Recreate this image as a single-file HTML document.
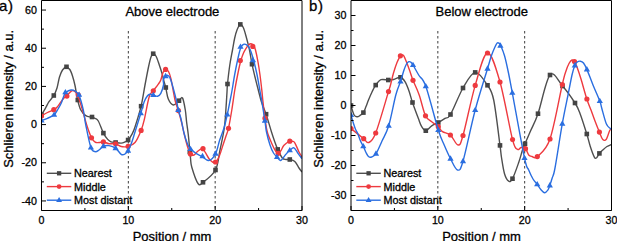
<!DOCTYPE html>
<html><head><meta charset="utf-8"><style>
html,body{margin:0;padding:0;background:#fff;width:617px;height:241px;overflow:hidden}
svg{display:block}
text{font-family:"Liberation Sans",sans-serif;fill:#000;stroke:#000;stroke-width:0.3px}
</style></head><body>
<svg width="617" height="241" viewBox="0 0 617 241">
<defs><clipPath id="ca"><rect x="41.5" y="0.5" width="260.5" height="210"/></clipPath><clipPath id="cb"><rect x="351" y="0.5" width="260.5" height="210"/></clipPath></defs>
<line x1="128.33" y1="31" x2="128.33" y2="210" stroke="#3c3c3c" stroke-width="1" stroke-dasharray="2.5,2.5"/>
<line x1="215.17" y1="31" x2="215.17" y2="210" stroke="#3c3c3c" stroke-width="1" stroke-dasharray="2.5,2.5"/>
<g clip-path="url(#ca)"><path d="M41.50,114.80 C42.15,113.72 44.15,110.48 45.40,108.30 C46.65,106.12 47.60,103.83 49.00,101.70 C50.40,99.57 52.47,97.78 53.80,95.50 C55.13,93.22 56.05,91.08 57.00,88.00 C57.95,84.92 58.58,80.00 59.50,77.00 C60.42,74.00 61.38,71.63 62.50,70.00 C63.62,68.37 64.98,67.28 66.20,67.20 C67.42,67.12 68.75,68.03 69.80,69.50 C70.85,70.97 71.63,73.33 72.50,76.00 C73.37,78.67 74.15,81.53 75.00,85.50 C75.85,89.47 76.63,95.72 77.60,99.80 C78.57,103.88 79.43,107.35 80.80,110.00 C82.17,112.65 84.07,114.50 85.80,115.70 C87.53,116.90 89.67,116.77 91.20,117.20 C92.73,117.63 93.82,117.67 95.00,118.30 C96.18,118.93 96.90,118.53 98.30,121.00 C99.70,123.47 101.83,130.03 103.40,133.10 C104.97,136.17 106.43,137.95 107.70,139.40 C108.97,140.85 109.68,141.28 111.00,141.80 C112.32,142.32 113.90,142.28 115.60,142.50 C117.30,142.72 119.63,143.20 121.20,143.10 C122.77,143.00 123.85,142.42 125.00,141.90 C126.15,141.38 126.95,141.25 128.10,140.00 C129.25,138.75 130.75,136.57 131.90,134.40 C133.05,132.23 133.47,131.70 135.00,127.00 C136.53,122.30 139.43,113.20 141.10,106.20 C142.77,99.20 143.77,91.53 145.00,85.00 C146.23,78.47 147.50,71.67 148.50,67.00 C149.50,62.33 150.20,59.22 151.00,57.00 C151.80,54.78 152.43,53.78 153.30,53.70 C154.17,53.62 155.20,54.62 156.20,56.50 C157.20,58.38 158.30,62.08 159.30,65.00 C160.30,67.92 161.48,71.50 162.20,74.00 C162.92,76.50 163.00,77.70 163.60,80.00 C164.20,82.30 165.02,84.63 165.80,87.80 C166.58,90.97 167.05,96.13 168.30,99.00 C169.55,101.87 171.52,104.72 173.30,105.00 C175.08,105.28 177.47,101.87 179.00,100.70 C180.53,99.53 181.45,96.45 182.50,98.00 C183.55,99.55 184.62,106.00 185.30,110.00 C185.98,114.00 186.12,118.00 186.60,122.00 C187.08,126.00 187.75,130.17 188.20,134.00 C188.65,137.83 188.92,141.00 189.30,145.00 C189.68,149.00 190.08,154.28 190.50,158.00 C190.92,161.72 190.55,163.05 191.80,167.30 C193.05,171.55 196.13,181.00 198.00,183.50 C199.87,186.00 200.08,184.55 203.00,182.30 C205.92,180.05 212.67,175.38 215.50,170.00 C218.33,164.62 218.53,157.00 220.00,150.00 C221.47,143.00 223.30,135.00 224.30,128.00 C225.30,121.00 225.55,114.00 226.00,108.00 C226.45,102.00 226.75,96.00 227.00,92.00 C227.25,88.00 227.03,88.50 227.50,84.00 C227.97,79.50 228.97,70.67 229.80,65.00 C230.63,59.33 231.68,54.50 232.50,50.00 C233.32,45.50 233.95,41.33 234.70,38.00 C235.45,34.67 236.07,32.27 237.00,30.00 C237.93,27.73 239.22,24.73 240.30,24.40 C241.38,24.07 242.47,25.73 243.50,28.00 C244.53,30.27 245.50,34.33 246.50,38.00 C247.50,41.67 248.58,45.63 249.50,50.00 C250.42,54.37 251.08,59.70 252.00,64.20 C252.92,68.70 253.95,72.70 255.00,77.00 C256.05,81.30 257.22,85.83 258.30,90.00 C259.38,94.17 260.20,97.97 261.50,102.00 C262.80,106.03 264.43,109.20 266.10,114.20 C267.77,119.20 270.10,127.53 271.50,132.00 C272.90,136.47 273.47,138.10 274.50,141.00 C275.53,143.90 276.40,146.57 277.70,149.40 C279.00,152.23 280.92,156.32 282.30,158.00 C283.68,159.68 284.75,159.25 286.00,159.50 C287.25,159.75 288.33,159.17 289.80,159.50 C291.27,159.83 293.27,160.08 294.80,161.50 C296.33,162.92 297.80,166.25 299.00,168.00 C300.20,169.75 301.50,171.33 302.00,172.00" fill="none" stroke="#4f4f4f" stroke-width="1.4" stroke-linejoin="round"/><rect x="39.20" y="112.50" width="4.6" height="4.6" fill="#444444"/><rect x="51.50" y="93.20" width="4.6" height="4.6" fill="#444444"/><rect x="64.20" y="64.50" width="4.6" height="4.6" fill="#444444"/><rect x="75.50" y="97.70" width="4.6" height="4.6" fill="#444444"/><rect x="89.70" y="114.70" width="4.6" height="4.6" fill="#444444"/><rect x="101.10" y="130.80" width="4.6" height="4.6" fill="#444444"/><rect x="113.30" y="140.20" width="4.6" height="4.6" fill="#444444"/><rect x="125.80" y="137.70" width="4.6" height="4.6" fill="#444444"/><rect x="138.80" y="103.90" width="4.6" height="4.6" fill="#444444"/><rect x="150.90" y="51.40" width="4.6" height="4.6" fill="#444444"/><rect x="163.50" y="85.20" width="4.6" height="4.6" fill="#444444"/><rect x="176.70" y="98.40" width="4.6" height="4.6" fill="#444444"/><rect x="187.50" y="149.70" width="4.6" height="4.6" fill="#444444"/><rect x="200.70" y="180.00" width="4.6" height="4.6" fill="#444444"/><rect x="213.20" y="167.70" width="4.6" height="4.6" fill="#444444"/><rect x="225.20" y="81.70" width="4.6" height="4.6" fill="#444444"/><rect x="238.00" y="22.10" width="4.6" height="4.6" fill="#444444"/><rect x="249.70" y="61.90" width="4.6" height="4.6" fill="#444444"/><rect x="263.80" y="111.90" width="4.6" height="4.6" fill="#444444"/><rect x="275.40" y="147.10" width="4.6" height="4.6" fill="#444444"/><rect x="287.50" y="157.20" width="4.6" height="4.6" fill="#444444"/></g>
<g clip-path="url(#ca)"><path d="M41.50,116.00 C42.50,115.42 45.45,113.55 47.50,112.50 C49.55,111.45 52.22,110.58 53.80,109.70 C55.38,108.82 55.88,108.40 57.00,107.20 C58.12,106.00 59.42,103.95 60.50,102.50 C61.58,101.05 62.45,99.67 63.50,98.50 C64.55,97.33 65.42,96.78 66.80,95.50 C68.18,94.22 70.43,91.43 71.80,90.80 C73.17,90.17 74.00,90.92 75.00,91.70 C76.00,92.48 76.55,92.45 77.80,95.50 C79.05,98.55 81.02,105.08 82.50,110.00 C83.98,114.92 85.20,120.37 86.70,125.00 C88.20,129.63 90.08,134.93 91.50,137.80 C92.92,140.67 93.95,141.42 95.20,142.20 C96.45,142.98 97.63,142.55 99.00,142.50 C100.37,142.45 101.73,141.70 103.40,141.90 C105.07,142.10 106.97,143.38 109.00,143.70 C111.03,144.02 113.57,143.33 115.60,143.80 C117.63,144.27 119.12,146.08 121.20,146.50 C123.28,146.92 125.80,146.97 128.10,146.30 C130.40,145.63 132.83,145.15 135.00,142.50 C137.17,139.85 139.57,134.15 141.10,130.40 C142.63,126.65 142.85,125.62 144.20,120.00 C145.55,114.38 147.68,101.57 149.20,96.70 C150.72,91.83 151.78,92.88 153.30,90.80 C154.82,88.72 157.05,86.00 158.30,84.20 C159.55,82.40 160.02,81.95 160.80,80.00 C161.58,78.05 162.17,74.20 163.00,72.50 C163.83,70.80 164.88,69.97 165.80,69.80 C166.72,69.63 167.63,69.97 168.50,71.50 C169.37,73.03 169.92,74.25 171.00,79.00 C172.08,83.75 173.78,94.75 175.00,100.00 C176.22,105.25 177.22,106.83 178.30,110.50 C179.38,114.17 180.52,118.08 181.50,122.00 C182.48,125.92 183.20,129.92 184.20,134.00 C185.20,138.08 186.45,143.17 187.50,146.50 C188.55,149.83 189.42,152.58 190.50,154.00 C191.58,155.42 192.75,155.50 194.00,155.00 C195.25,154.50 196.50,151.95 198.00,151.00 C199.50,150.05 201.00,147.80 203.00,149.30 C205.00,150.80 207.92,157.85 210.00,160.00 C212.08,162.15 213.92,162.95 215.50,162.20 C217.08,161.45 218.25,158.37 219.50,155.50 C220.75,152.63 221.92,148.25 223.00,145.00 C224.08,141.75 225.08,138.78 226.00,136.00 C226.92,133.22 227.53,132.63 228.50,128.30 C229.47,123.97 230.75,116.38 231.80,110.00 C232.85,103.62 233.77,96.17 234.80,90.00 C235.83,83.83 237.00,77.87 238.00,73.00 C239.00,68.13 239.88,64.13 240.80,60.80 C241.72,57.47 242.58,55.13 243.50,53.00 C244.42,50.87 245.47,49.33 246.30,48.00 C247.13,46.67 247.72,45.70 248.50,45.00 C249.28,44.30 250.12,43.67 251.00,43.80 C251.88,43.93 253.05,44.77 253.80,45.80 C254.55,46.83 254.80,47.30 255.50,50.00 C256.20,52.70 257.25,57.83 258.00,62.00 C258.75,66.17 259.37,70.33 260.00,75.00 C260.63,79.67 261.30,85.50 261.80,90.00 C262.30,94.50 262.47,97.30 263.00,102.00 C263.53,106.70 264.28,113.20 265.00,118.20 C265.72,123.20 266.13,127.70 267.30,132.00 C268.47,136.30 270.72,141.00 272.00,144.00 C273.28,147.00 273.97,148.45 275.00,150.00 C276.03,151.55 277.20,153.22 278.20,153.30 C279.20,153.38 280.03,151.83 281.00,150.50 C281.97,149.17 282.53,146.85 284.00,145.30 C285.47,143.75 288.38,141.87 289.80,141.20 C291.22,140.53 291.67,141.03 292.50,141.30 C293.33,141.57 293.72,141.02 294.80,142.80 C295.88,144.58 297.80,149.63 299.00,152.00 C300.20,154.37 301.50,156.17 302.00,157.00" fill="none" stroke="#ee3a3f" stroke-width="1.4" stroke-linejoin="round"/><circle cx="41.50" cy="116.00" r="2.6" fill="#ee3a3f"/><circle cx="53.80" cy="109.70" r="2.6" fill="#ee3a3f"/><circle cx="66.90" cy="96.10" r="2.6" fill="#ee3a3f"/><circle cx="78.20" cy="94.90" r="2.6" fill="#ee3a3f"/><circle cx="91.50" cy="137.80" r="2.6" fill="#ee3a3f"/><circle cx="103.40" cy="141.90" r="2.6" fill="#ee3a3f"/><circle cx="115.60" cy="143.80" r="2.6" fill="#ee3a3f"/><circle cx="128.10" cy="146.30" r="2.6" fill="#ee3a3f"/><circle cx="141.10" cy="130.40" r="2.6" fill="#ee3a3f"/><circle cx="153.30" cy="90.80" r="2.6" fill="#ee3a3f"/><circle cx="165.60" cy="69.40" r="2.6" fill="#ee3a3f"/><circle cx="178.40" cy="110.60" r="2.6" fill="#ee3a3f"/><circle cx="190.50" cy="154.00" r="2.6" fill="#ee3a3f"/><circle cx="203.00" cy="148.70" r="2.6" fill="#ee3a3f"/><circle cx="215.50" cy="162.00" r="2.6" fill="#ee3a3f"/><circle cx="228.50" cy="128.30" r="2.6" fill="#ee3a3f"/><circle cx="240.30" cy="60.50" r="2.6" fill="#ee3a3f"/><circle cx="252.80" cy="46.40" r="2.6" fill="#ee3a3f"/><circle cx="265.00" cy="118.20" r="2.6" fill="#ee3a3f"/><circle cx="278.20" cy="153.30" r="2.6" fill="#ee3a3f"/><circle cx="289.80" cy="141.20" r="2.6" fill="#ee3a3f"/></g>
<g clip-path="url(#ca)"><path d="M41.50,120.50 C42.50,120.13 45.40,119.25 47.50,118.30 C49.60,117.35 52.35,116.35 54.10,114.80 C55.85,113.25 56.80,110.97 58.00,109.00 C59.20,107.03 60.30,105.25 61.30,103.00 C62.30,100.75 63.22,97.30 64.00,95.50 C64.78,93.70 64.83,93.12 66.00,92.20 C67.17,91.28 69.50,90.20 71.00,90.00 C72.50,89.80 73.63,90.03 75.00,91.00 C76.37,91.97 77.82,92.63 79.20,95.80 C80.58,98.97 82.20,105.13 83.30,110.00 C84.40,114.87 84.53,118.75 85.80,125.00 C87.07,131.25 89.33,143.05 90.90,147.50 C92.47,151.95 93.85,151.28 95.20,151.70 C96.55,152.12 97.63,150.92 99.00,150.00 C100.37,149.08 101.73,146.93 103.40,146.20 C105.07,145.47 106.97,145.28 109.00,145.60 C111.03,145.92 113.57,146.63 115.60,148.10 C117.63,149.57 119.63,153.42 121.20,154.40 C122.77,155.38 123.85,154.63 125.00,154.00 C126.15,153.37 127.02,152.43 128.10,150.60 C129.18,148.77 130.35,146.10 131.50,143.00 C132.65,139.90 133.45,136.95 135.00,132.00 C136.55,127.05 139.27,118.35 140.80,113.30 C142.33,108.25 143.08,104.62 144.20,101.70 C145.32,98.78 146.53,97.05 147.50,95.80 C148.47,94.55 149.03,94.33 150.00,94.20 C150.97,94.07 152.05,94.65 153.30,95.00 C154.55,95.35 156.25,96.58 157.50,96.30 C158.75,96.02 159.80,95.18 160.80,93.30 C161.80,91.42 163.08,87.22 163.50,85.00 C163.92,82.78 162.92,81.50 163.30,80.00 C163.68,78.50 165.02,76.75 165.80,76.00 C166.58,75.25 167.17,74.83 168.00,75.50 C168.83,76.17 169.42,75.92 170.80,80.00 C172.18,84.08 175.05,95.00 176.30,100.00 C177.55,105.00 177.55,107.00 178.30,110.00 C179.05,113.00 179.85,114.17 180.80,118.00 C181.75,121.83 182.92,128.75 184.00,133.00 C185.08,137.25 186.22,140.83 187.30,143.50 C188.38,146.17 189.05,147.37 190.50,149.00 C191.95,150.63 194.13,152.08 196.00,153.30 C197.87,154.52 199.57,155.10 201.70,156.30 C203.83,157.50 206.50,160.92 208.80,160.50 C211.10,160.08 213.68,157.22 215.50,153.80 C217.32,150.38 218.28,144.30 219.70,140.00 C221.12,135.70 222.73,132.25 224.00,128.00 C225.27,123.75 226.27,119.17 227.30,114.50 C228.33,109.83 229.40,104.08 230.20,100.00 C231.00,95.92 231.37,94.17 232.10,90.00 C232.83,85.83 233.68,80.00 234.60,75.00 C235.52,70.00 236.65,64.33 237.60,60.00 C238.55,55.67 239.55,51.42 240.30,49.00 C241.05,46.58 241.47,46.30 242.10,45.50 C242.73,44.70 243.35,44.32 244.10,44.20 C244.85,44.08 245.77,44.25 246.60,44.80 C247.43,45.35 248.35,46.30 249.10,47.50 C249.85,48.70 250.30,49.70 251.10,52.00 C251.90,54.30 252.90,57.47 253.90,61.30 C254.90,65.13 256.12,70.22 257.10,75.00 C258.08,79.78 259.05,85.83 259.80,90.00 C260.55,94.17 260.75,94.88 261.60,100.00 C262.45,105.12 264.08,115.37 264.90,120.70 C265.72,126.03 265.65,127.95 266.50,132.00 C267.35,136.05 268.83,141.50 270.00,145.00 C271.17,148.50 272.33,151.00 273.50,153.00 C274.67,155.00 275.80,155.75 277.00,157.00 C278.20,158.25 279.25,160.92 280.70,160.50 C282.15,160.08 284.18,156.20 285.70,154.50 C287.22,152.80 288.42,151.42 289.80,150.30 C291.18,149.18 292.60,147.23 294.00,147.80 C295.40,148.37 296.87,151.88 298.20,153.70 C299.53,155.52 301.37,157.87 302.00,158.70" fill="none" stroke="#2a6ee0" stroke-width="1.4" stroke-linejoin="round"/><path d="M41.50,117.17 L44.60,122.54 L38.40,122.54Z" fill="#2a6ee0"/><path d="M54.10,111.47 L57.20,116.84 L51.00,116.84Z" fill="#2a6ee0"/><path d="M65.40,88.97 L68.50,94.34 L62.30,94.34Z" fill="#2a6ee0"/><path d="M79.10,91.47 L82.20,96.84 L76.00,96.84Z" fill="#2a6ee0"/><path d="M90.90,144.17 L94.00,149.54 L87.80,149.54Z" fill="#2a6ee0"/><path d="M103.40,142.87 L106.50,148.24 L100.30,148.24Z" fill="#2a6ee0"/><path d="M115.60,144.77 L118.70,150.14 L112.50,150.14Z" fill="#2a6ee0"/><path d="M128.10,147.27 L131.20,152.64 L125.00,152.64Z" fill="#2a6ee0"/><path d="M140.80,109.97 L143.90,115.34 L137.70,115.34Z" fill="#2a6ee0"/><path d="M153.30,91.67 L156.40,97.04 L150.20,97.04Z" fill="#2a6ee0"/><path d="M165.60,72.77 L168.70,78.14 L162.50,78.14Z" fill="#2a6ee0"/><path d="M178.30,106.67 L181.40,112.04 L175.20,112.04Z" fill="#2a6ee0"/><path d="M190.50,145.67 L193.60,151.04 L187.40,151.04Z" fill="#2a6ee0"/><path d="M202.50,152.87 L205.60,158.24 L199.40,158.24Z" fill="#2a6ee0"/><path d="M215.50,150.37 L218.60,155.74 L212.40,155.74Z" fill="#2a6ee0"/><path d="M227.30,111.17 L230.40,116.54 L224.20,116.54Z" fill="#2a6ee0"/><path d="M240.50,43.47 L243.60,48.84 L237.40,48.84Z" fill="#2a6ee0"/><path d="M252.90,56.87 L256.00,62.24 L249.80,62.24Z" fill="#2a6ee0"/><path d="M264.90,117.37 L268.00,122.74 L261.80,122.74Z" fill="#2a6ee0"/><path d="M277.00,153.67 L280.10,159.04 L273.90,159.04Z" fill="#2a6ee0"/><path d="M289.80,146.97 L292.90,152.34 L286.70,152.34Z" fill="#2a6ee0"/></g>
<path d="M41.5,0.5 H302.0 V210.5 H41.5 Z" fill="none" stroke="#000" stroke-width="1"/>
<line x1="41.5" y1="10.05" x2="46.0" y2="10.05" stroke="#000" stroke-width="1"/>
<text transform="translate(36.90,13.75) scale(0.93,1)" font-size="11.5" text-anchor="end">60</text>
<line x1="41.5" y1="48.23" x2="46.0" y2="48.23" stroke="#000" stroke-width="1"/>
<text transform="translate(36.90,51.93) scale(0.93,1)" font-size="11.5" text-anchor="end">40</text>
<line x1="41.5" y1="86.41" x2="46.0" y2="86.41" stroke="#000" stroke-width="1"/>
<text transform="translate(36.90,90.11) scale(0.93,1)" font-size="11.5" text-anchor="end">20</text>
<line x1="41.5" y1="124.59" x2="46.0" y2="124.59" stroke="#000" stroke-width="1"/>
<text transform="translate(36.90,128.29) scale(0.93,1)" font-size="11.5" text-anchor="end">0</text>
<line x1="41.5" y1="162.77" x2="46.0" y2="162.77" stroke="#000" stroke-width="1"/>
<text transform="translate(36.90,166.47) scale(0.93,1)" font-size="11.5" text-anchor="end">-20</text>
<line x1="41.5" y1="200.95" x2="46.0" y2="200.95" stroke="#000" stroke-width="1"/>
<text transform="translate(36.90,204.65) scale(0.93,1)" font-size="11.5" text-anchor="end">-40</text>
<line x1="41.5" y1="29.14" x2="44.0" y2="29.14" stroke="#000" stroke-width="1"/>
<line x1="41.5" y1="67.32" x2="44.0" y2="67.32" stroke="#000" stroke-width="1"/>
<line x1="41.5" y1="105.50" x2="44.0" y2="105.50" stroke="#000" stroke-width="1"/>
<line x1="41.5" y1="143.68" x2="44.0" y2="143.68" stroke="#000" stroke-width="1"/>
<line x1="41.5" y1="181.86" x2="44.0" y2="181.86" stroke="#000" stroke-width="1"/>
<line x1="41.50" y1="210.5" x2="41.50" y2="206.0" stroke="#000" stroke-width="1"/>
<text transform="translate(41.50,224.40) scale(0.93,1)" font-size="11.5" text-anchor="middle">0</text>
<line x1="128.33" y1="210.5" x2="128.33" y2="206.0" stroke="#000" stroke-width="1"/>
<text transform="translate(128.33,224.40) scale(0.93,1)" font-size="11.5" text-anchor="middle">10</text>
<line x1="215.17" y1="210.5" x2="215.17" y2="206.0" stroke="#000" stroke-width="1"/>
<text transform="translate(215.17,224.40) scale(0.93,1)" font-size="11.5" text-anchor="middle">20</text>
<line x1="302.00" y1="210.5" x2="302.00" y2="206.0" stroke="#000" stroke-width="1"/>
<text transform="translate(302.00,224.40) scale(0.93,1)" font-size="11.5" text-anchor="middle">30</text>
<line x1="84.92" y1="210.5" x2="84.92" y2="208.0" stroke="#000" stroke-width="1"/>
<line x1="171.75" y1="210.5" x2="171.75" y2="208.0" stroke="#000" stroke-width="1"/>
<line x1="258.58" y1="210.5" x2="258.58" y2="208.0" stroke="#000" stroke-width="1"/>
<text x="172.05" y="240.60" font-size="13" text-anchor="middle" >Position / mm</text>
<text x="125.40" y="15.60" font-size="13" text-anchor="start" >Above electrode</text>
<text x="-1.10" y="11.00" font-size="15" text-anchor="start" letter-spacing="0.8">a)</text>
<text transform="translate(13.00,98.80) rotate(-90)" font-size="13" text-anchor="middle">Schlieren intensity / a.u.</text>
<line x1="46.80" y1="173.3" x2="71.30" y2="173.3" stroke="#4f4f4f" stroke-width="1.4"/>
<rect x="56.95" y="171.15" width="4.3" height="4.3" fill="#444444"/>
<text x="74.00" y="177.30" font-size="10.8" text-anchor="start" >Nearest</text>
<line x1="46.80" y1="186.6" x2="71.30" y2="186.6" stroke="#ee3a3f" stroke-width="1.4"/>
<circle cx="59.10" cy="186.60" r="2.4" fill="#ee3a3f"/>
<text x="74.00" y="190.60" font-size="10.8" text-anchor="start" >Middle</text>
<line x1="46.80" y1="200.2" x2="71.30" y2="200.2" stroke="#2a6ee0" stroke-width="1.4"/>
<path d="M59.10,197.09 L62.00,202.11 L56.20,202.11Z" fill="#2a6ee0"/>
<text x="74.00" y="204.20" font-size="10.8" text-anchor="start" >Most distant</text>
<line x1="437.83" y1="31" x2="437.83" y2="210" stroke="#3c3c3c" stroke-width="1" stroke-dasharray="2.5,2.5"/>
<line x1="524.67" y1="31" x2="524.67" y2="210" stroke="#3c3c3c" stroke-width="1" stroke-dasharray="2.5,2.5"/>
<g clip-path="url(#cb)"><path d="M351.00,105.50 C351.52,107.08 353.07,113.12 354.10,115.00 C355.13,116.88 356.25,116.70 357.20,116.80 C358.15,116.90 358.77,116.30 359.80,115.60 C360.83,114.90 362.37,114.12 363.40,112.60 C364.43,111.08 365.15,108.60 366.00,106.50 C366.85,104.40 367.50,102.42 368.50,100.00 C369.50,97.58 370.80,94.48 372.00,92.00 C373.20,89.52 374.20,87.15 375.70,85.10 C377.20,83.05 378.90,80.55 381.00,79.70 C383.10,78.85 386.18,80.03 388.30,80.00 C390.42,79.97 391.67,79.95 393.70,79.50 C395.73,79.05 398.62,76.93 400.50,77.30 C402.38,77.67 403.58,79.42 405.00,81.70 C406.42,83.98 407.75,87.53 409.00,91.00 C410.25,94.47 410.95,97.95 412.50,102.50 C414.05,107.05 416.77,114.27 418.30,118.30 C419.83,122.33 420.45,124.63 421.70,126.70 C422.95,128.77 424.13,130.85 425.80,130.70 C427.47,130.55 429.62,127.17 431.70,125.80 C433.78,124.43 436.08,123.75 438.30,122.50 C440.52,121.25 442.97,119.63 445.00,118.30 C447.03,116.97 447.50,119.55 450.50,114.50 C453.50,109.45 458.88,95.02 463.00,88.00 C467.12,80.98 471.12,72.85 475.20,72.40 C479.28,71.95 484.42,80.70 487.50,85.30 C490.58,89.90 491.62,89.98 493.70,100.00 C495.78,110.02 498.70,135.82 500.00,145.40 C501.30,154.98 500.75,152.78 501.50,157.50 C502.25,162.22 503.30,169.75 504.50,173.70 C505.70,177.65 507.37,180.37 508.70,181.20 C510.03,182.03 510.83,181.82 512.50,178.70 C514.17,175.58 517.03,167.28 518.70,162.50 C520.37,157.72 521.45,153.13 522.50,150.00 C523.55,146.87 523.67,146.87 525.00,143.70 C526.33,140.53 528.33,136.00 530.50,131.00 C532.67,126.00 534.75,123.03 538.00,113.70 C541.25,104.37 545.92,79.62 550.00,75.00 C554.08,70.38 558.33,81.33 562.50,86.00 C566.67,90.67 572.08,98.43 575.00,103.00 C577.92,107.57 578.03,108.23 580.00,113.40 C581.97,118.57 585.08,128.48 586.80,134.00 C588.52,139.52 589.07,142.70 590.30,146.50 C591.53,150.30 593.18,154.88 594.20,156.80 C595.22,158.72 595.53,158.57 596.40,158.00 C597.27,157.43 598.33,154.73 599.40,153.40 C600.47,152.07 601.53,151.15 602.80,150.00 C604.07,148.85 605.55,147.42 607.00,146.50 C608.45,145.58 610.75,144.83 611.50,144.50" fill="none" stroke="#4f4f4f" stroke-width="1.4" stroke-linejoin="round"/><rect x="348.70" y="103.20" width="4.6" height="4.6" fill="#444444"/><rect x="361.10" y="110.30" width="4.6" height="4.6" fill="#444444"/><rect x="373.40" y="82.80" width="4.6" height="4.6" fill="#444444"/><rect x="386.00" y="77.70" width="4.6" height="4.6" fill="#444444"/><rect x="398.20" y="75.00" width="4.6" height="4.6" fill="#444444"/><rect x="410.20" y="100.20" width="4.6" height="4.6" fill="#444444"/><rect x="423.50" y="128.40" width="4.6" height="4.6" fill="#444444"/><rect x="436.00" y="120.20" width="4.6" height="4.6" fill="#444444"/><rect x="448.20" y="112.20" width="4.6" height="4.6" fill="#444444"/><rect x="460.70" y="85.70" width="4.6" height="4.6" fill="#444444"/><rect x="472.90" y="70.10" width="4.6" height="4.6" fill="#444444"/><rect x="485.20" y="83.00" width="4.6" height="4.6" fill="#444444"/><rect x="497.70" y="143.10" width="4.6" height="4.6" fill="#444444"/><rect x="510.20" y="176.40" width="4.6" height="4.6" fill="#444444"/><rect x="522.70" y="141.40" width="4.6" height="4.6" fill="#444444"/><rect x="535.70" y="111.40" width="4.6" height="4.6" fill="#444444"/><rect x="547.70" y="72.70" width="4.6" height="4.6" fill="#444444"/><rect x="560.20" y="83.70" width="4.6" height="4.6" fill="#444444"/><rect x="572.70" y="100.70" width="4.6" height="4.6" fill="#444444"/><rect x="584.50" y="131.70" width="4.6" height="4.6" fill="#444444"/><rect x="597.10" y="151.10" width="4.6" height="4.6" fill="#444444"/></g>
<g clip-path="url(#cb)"><path d="M351.00,128.50 C353.12,130.20 360.75,136.37 363.70,138.70 C366.65,141.03 366.70,143.45 368.70,142.50 C370.70,141.55 372.40,141.48 375.70,133.00 C379.00,124.52 386.03,99.60 388.50,91.60 C390.97,83.60 389.67,88.10 390.50,85.00 C391.33,81.90 392.42,76.75 393.50,73.00 C394.58,69.25 395.85,65.37 397.00,62.50 C398.15,59.63 399.57,57.07 400.40,55.80 C401.23,54.53 401.43,54.90 402.00,54.90 C402.57,54.90 403.05,54.62 403.80,55.80 C404.55,56.98 405.47,59.38 406.50,62.00 C407.53,64.62 408.92,68.45 410.00,71.50 C411.08,74.55 411.47,76.38 413.00,80.30 C414.53,84.22 417.12,89.08 419.20,95.00 C421.28,100.92 423.42,111.35 425.50,115.80 C427.58,120.25 429.57,119.88 431.70,121.70 C433.83,123.52 436.50,125.03 438.30,126.70 C440.10,128.37 440.48,130.32 442.50,131.70 C444.52,133.08 447.82,132.78 450.40,135.00 C452.98,137.22 455.90,144.92 458.00,145.00 C460.10,145.08 460.13,145.43 463.00,135.50 C465.87,125.57 471.12,99.15 475.20,85.40 C479.28,71.65 483.37,53.57 487.50,53.00 C491.63,52.43 495.83,67.58 500.00,82.00 C504.17,96.42 509.58,128.28 512.50,139.50 C515.42,150.72 516.05,147.97 517.50,149.30 C518.95,150.63 519.87,147.60 521.20,147.50 C522.53,147.40 524.25,147.45 525.50,148.70 C526.75,149.95 527.62,153.70 528.70,155.00 C529.78,156.30 530.57,156.23 532.00,156.50 C533.43,156.77 534.30,159.52 537.30,156.60 C540.30,153.68 545.83,151.02 550.00,139.00 C554.17,126.98 559.63,95.83 562.30,84.50 C564.97,73.17 564.88,74.50 566.00,71.00 C567.12,67.50 568.00,65.33 569.00,63.50 C570.00,61.67 571.08,60.33 572.00,60.00 C572.92,59.67 573.67,60.33 574.50,61.50 C575.33,62.67 575.92,64.08 577.00,67.00 C578.08,69.92 579.37,73.67 581.00,79.00 C582.63,84.33 585.13,93.83 586.80,99.00 C588.47,104.17 589.63,106.33 591.00,110.00 C592.37,113.67 593.60,117.32 595.00,121.00 C596.40,124.68 598.10,129.02 599.40,132.10 C600.70,135.18 601.65,138.32 602.80,139.50 C603.95,140.68 605.15,140.70 606.30,139.20 C607.45,137.70 608.83,132.13 609.70,130.50 C610.57,128.87 611.20,129.58 611.50,129.40" fill="none" stroke="#ee3a3f" stroke-width="1.4" stroke-linejoin="round"/><circle cx="351.00" cy="128.50" r="2.6" fill="#ee3a3f"/><circle cx="363.70" cy="138.70" r="2.6" fill="#ee3a3f"/><circle cx="375.70" cy="133.00" r="2.6" fill="#ee3a3f"/><circle cx="388.50" cy="91.60" r="2.6" fill="#ee3a3f"/><circle cx="400.40" cy="55.80" r="2.6" fill="#ee3a3f"/><circle cx="413.00" cy="80.30" r="2.6" fill="#ee3a3f"/><circle cx="425.50" cy="115.80" r="2.6" fill="#ee3a3f"/><circle cx="438.30" cy="126.70" r="2.6" fill="#ee3a3f"/><circle cx="450.40" cy="135.00" r="2.6" fill="#ee3a3f"/><circle cx="463.00" cy="135.50" r="2.6" fill="#ee3a3f"/><circle cx="475.20" cy="85.40" r="2.6" fill="#ee3a3f"/><circle cx="487.50" cy="53.00" r="2.6" fill="#ee3a3f"/><circle cx="500.00" cy="82.00" r="2.6" fill="#ee3a3f"/><circle cx="512.50" cy="139.50" r="2.6" fill="#ee3a3f"/><circle cx="525.50" cy="148.70" r="2.6" fill="#ee3a3f"/><circle cx="537.30" cy="156.60" r="2.6" fill="#ee3a3f"/><circle cx="550.00" cy="139.00" r="2.6" fill="#ee3a3f"/><circle cx="562.30" cy="84.50" r="2.6" fill="#ee3a3f"/><circle cx="574.50" cy="61.50" r="2.6" fill="#ee3a3f"/><circle cx="586.90" cy="99.00" r="2.6" fill="#ee3a3f"/><circle cx="599.40" cy="132.10" r="2.6" fill="#ee3a3f"/></g>
<g clip-path="url(#cb)"><path d="M351.00,115.00 C351.42,116.42 352.73,121.08 353.50,123.50 C354.27,125.92 354.93,127.92 355.60,129.50 C356.27,131.08 356.68,131.08 357.50,133.00 C358.32,134.92 359.53,138.78 360.50,141.00 C361.47,143.22 362.38,144.38 363.30,146.30 C364.22,148.22 365.13,150.80 366.00,152.50 C366.87,154.20 367.58,155.75 368.50,156.50 C369.42,157.25 370.25,157.47 371.50,157.00 C372.75,156.53 374.25,156.37 376.00,153.70 C377.75,151.03 379.88,145.65 382.00,141.00 C384.12,136.35 386.40,133.47 388.70,125.80 C391.00,118.13 393.83,102.38 395.80,95.00 C397.77,87.62 399.13,85.67 400.50,81.50 C401.87,77.33 403.00,72.92 404.00,70.00 C405.00,67.08 405.70,65.38 406.50,64.00 C407.30,62.62 408.05,61.98 408.80,61.70 C409.55,61.42 410.30,61.75 411.00,62.30 C411.70,62.85 411.67,62.80 413.00,65.00 C414.33,67.20 416.87,71.95 419.00,75.50 C421.13,79.05 422.58,77.22 425.80,86.30 C429.02,95.38 435.23,120.22 438.30,130.00 C441.37,139.78 442.17,140.22 444.20,145.00 C446.23,149.78 448.28,154.53 450.50,158.70 C452.72,162.87 455.42,169.58 457.50,170.00 C459.58,170.42 460.05,171.20 463.00,161.20 C465.95,151.20 471.12,125.42 475.20,110.00 C479.28,94.58 484.82,77.70 487.50,68.70 C490.18,59.70 490.13,59.45 491.30,56.00 C492.47,52.55 493.52,50.17 494.50,48.00 C495.48,45.83 496.42,43.78 497.20,43.00 C497.98,42.22 498.63,42.92 499.20,43.30 C499.77,43.68 499.70,43.18 500.60,45.30 C501.50,47.42 503.28,51.38 504.60,56.00 C505.92,60.62 507.22,66.87 508.50,73.00 C509.78,79.13 509.63,78.63 512.30,92.80 C514.97,106.97 521.77,145.13 524.50,158.00 C527.23,170.87 527.28,166.50 528.70,170.00 C530.12,173.50 531.58,176.62 533.00,179.00 C534.42,181.38 535.90,182.55 537.20,184.30 C538.50,186.05 539.58,188.10 540.80,189.50 C542.02,190.90 543.33,192.58 544.50,192.70 C545.67,192.82 546.92,191.42 547.80,190.20 C548.68,188.98 549.07,187.43 549.80,185.40 C550.53,183.37 551.33,180.90 552.20,178.00 C553.07,175.10 553.32,177.05 555.00,168.00 C556.68,158.95 560.13,135.87 562.30,123.70 C564.47,111.53 566.38,103.12 568.00,95.00 C569.62,86.88 570.87,79.93 572.00,75.00 C573.13,70.07 573.92,67.57 574.80,65.40 C575.68,63.23 576.37,62.70 577.30,62.00 C578.23,61.30 579.37,61.03 580.40,61.20 C581.43,61.37 582.42,61.63 583.50,63.00 C584.58,64.37 585.32,65.73 586.90,69.40 C588.48,73.07 590.85,79.73 593.00,85.00 C595.15,90.27 598.35,97.17 599.80,101.00 C601.25,104.83 600.62,104.22 601.70,108.00 C602.78,111.78 604.90,120.32 606.30,123.70 C607.70,127.08 609.23,127.42 610.10,128.30 C610.97,129.18 611.27,128.88 611.50,129.00" fill="none" stroke="#2a6ee0" stroke-width="1.4" stroke-linejoin="round"/><path d="M351.00,111.67 L354.10,117.04 L347.90,117.04Z" fill="#2a6ee0"/><path d="M363.30,142.97 L366.40,148.34 L360.20,148.34Z" fill="#2a6ee0"/><path d="M376.00,150.37 L379.10,155.74 L372.90,155.74Z" fill="#2a6ee0"/><path d="M388.70,122.47 L391.80,127.84 L385.60,127.84Z" fill="#2a6ee0"/><path d="M400.50,78.17 L403.60,83.54 L397.40,83.54Z" fill="#2a6ee0"/><path d="M413.00,61.67 L416.10,67.04 L409.90,67.04Z" fill="#2a6ee0"/><path d="M425.80,82.97 L428.90,88.34 L422.70,88.34Z" fill="#2a6ee0"/><path d="M438.30,126.67 L441.40,132.04 L435.20,132.04Z" fill="#2a6ee0"/><path d="M450.50,155.37 L453.60,160.74 L447.40,160.74Z" fill="#2a6ee0"/><path d="M463.00,157.87 L466.10,163.24 L459.90,163.24Z" fill="#2a6ee0"/><path d="M475.20,106.67 L478.30,112.04 L472.10,112.04Z" fill="#2a6ee0"/><path d="M487.50,65.37 L490.60,70.74 L484.40,70.74Z" fill="#2a6ee0"/><path d="M500.40,42.27 L503.50,47.64 L497.30,47.64Z" fill="#2a6ee0"/><path d="M512.30,89.47 L515.40,94.84 L509.20,94.84Z" fill="#2a6ee0"/><path d="M524.50,154.67 L527.60,160.04 L521.40,160.04Z" fill="#2a6ee0"/><path d="M537.20,180.97 L540.30,186.34 L534.10,186.34Z" fill="#2a6ee0"/><path d="M549.80,182.07 L552.90,187.44 L546.70,187.44Z" fill="#2a6ee0"/><path d="M562.30,120.37 L565.40,125.74 L559.20,125.74Z" fill="#2a6ee0"/><path d="M574.80,62.07 L577.90,67.44 L571.70,67.44Z" fill="#2a6ee0"/><path d="M586.90,66.07 L590.00,71.44 L583.80,71.44Z" fill="#2a6ee0"/><path d="M599.80,97.67 L602.90,103.04 L596.70,103.04Z" fill="#2a6ee0"/></g>
<path d="M351.0,0.5 H611.5 V210.5 H351.0 Z" fill="none" stroke="#000" stroke-width="1"/>
<line x1="351.0" y1="15.50" x2="355.5" y2="15.50" stroke="#000" stroke-width="1"/>
<text transform="translate(346.40,19.20) scale(0.93,1)" font-size="11.5" text-anchor="end">30</text>
<line x1="351.0" y1="45.50" x2="355.5" y2="45.50" stroke="#000" stroke-width="1"/>
<text transform="translate(346.40,49.20) scale(0.93,1)" font-size="11.5" text-anchor="end">20</text>
<line x1="351.0" y1="75.50" x2="355.5" y2="75.50" stroke="#000" stroke-width="1"/>
<text transform="translate(346.40,79.20) scale(0.93,1)" font-size="11.5" text-anchor="end">10</text>
<line x1="351.0" y1="105.50" x2="355.5" y2="105.50" stroke="#000" stroke-width="1"/>
<text transform="translate(346.40,109.20) scale(0.93,1)" font-size="11.5" text-anchor="end">0</text>
<line x1="351.0" y1="135.50" x2="355.5" y2="135.50" stroke="#000" stroke-width="1"/>
<text transform="translate(346.40,139.20) scale(0.93,1)" font-size="11.5" text-anchor="end">-10</text>
<line x1="351.0" y1="165.50" x2="355.5" y2="165.50" stroke="#000" stroke-width="1"/>
<text transform="translate(346.40,169.20) scale(0.93,1)" font-size="11.5" text-anchor="end">-20</text>
<line x1="351.0" y1="195.50" x2="355.5" y2="195.50" stroke="#000" stroke-width="1"/>
<text transform="translate(346.40,199.20) scale(0.93,1)" font-size="11.5" text-anchor="end">-30</text>
<line x1="351.0" y1="30.50" x2="353.5" y2="30.50" stroke="#000" stroke-width="1"/>
<line x1="351.0" y1="60.50" x2="353.5" y2="60.50" stroke="#000" stroke-width="1"/>
<line x1="351.0" y1="90.50" x2="353.5" y2="90.50" stroke="#000" stroke-width="1"/>
<line x1="351.0" y1="120.50" x2="353.5" y2="120.50" stroke="#000" stroke-width="1"/>
<line x1="351.0" y1="150.50" x2="353.5" y2="150.50" stroke="#000" stroke-width="1"/>
<line x1="351.0" y1="180.50" x2="353.5" y2="180.50" stroke="#000" stroke-width="1"/>
<line x1="351.00" y1="210.5" x2="351.00" y2="206.0" stroke="#000" stroke-width="1"/>
<text transform="translate(351.00,224.40) scale(0.93,1)" font-size="11.5" text-anchor="middle">0</text>
<line x1="437.83" y1="210.5" x2="437.83" y2="206.0" stroke="#000" stroke-width="1"/>
<text transform="translate(437.83,224.40) scale(0.93,1)" font-size="11.5" text-anchor="middle">10</text>
<line x1="524.67" y1="210.5" x2="524.67" y2="206.0" stroke="#000" stroke-width="1"/>
<text transform="translate(524.67,224.40) scale(0.93,1)" font-size="11.5" text-anchor="middle">20</text>
<line x1="611.50" y1="210.5" x2="611.50" y2="206.0" stroke="#000" stroke-width="1"/>
<text transform="translate(611.50,224.40) scale(0.93,1)" font-size="11.5" text-anchor="middle">30</text>
<line x1="394.42" y1="210.5" x2="394.42" y2="208.0" stroke="#000" stroke-width="1"/>
<line x1="481.25" y1="210.5" x2="481.25" y2="208.0" stroke="#000" stroke-width="1"/>
<line x1="568.08" y1="210.5" x2="568.08" y2="208.0" stroke="#000" stroke-width="1"/>
<text x="481.55" y="240.60" font-size="13" text-anchor="middle" >Position / mm</text>
<text x="435.50" y="15.60" font-size="13" text-anchor="start" >Below electrode</text>
<text x="308.90" y="11.00" font-size="15" text-anchor="start" letter-spacing="0.8">b)</text>
<text transform="translate(322.50,98.80) rotate(-90)" font-size="13" text-anchor="middle">Schlieren intensity / a.u.</text>
<line x1="356.30" y1="173.3" x2="380.80" y2="173.3" stroke="#4f4f4f" stroke-width="1.4"/>
<rect x="366.45" y="171.15" width="4.3" height="4.3" fill="#444444"/>
<text x="383.50" y="177.30" font-size="10.8" text-anchor="start" >Nearest</text>
<line x1="356.30" y1="186.6" x2="380.80" y2="186.6" stroke="#ee3a3f" stroke-width="1.4"/>
<circle cx="368.60" cy="186.60" r="2.4" fill="#ee3a3f"/>
<text x="383.50" y="190.60" font-size="10.8" text-anchor="start" >Middle</text>
<line x1="356.30" y1="200.2" x2="380.80" y2="200.2" stroke="#2a6ee0" stroke-width="1.4"/>
<path d="M368.60,197.09 L371.50,202.11 L365.70,202.11Z" fill="#2a6ee0"/>
<text x="383.50" y="204.20" font-size="10.8" text-anchor="start" >Most distant</text>
</svg>
</body></html>
